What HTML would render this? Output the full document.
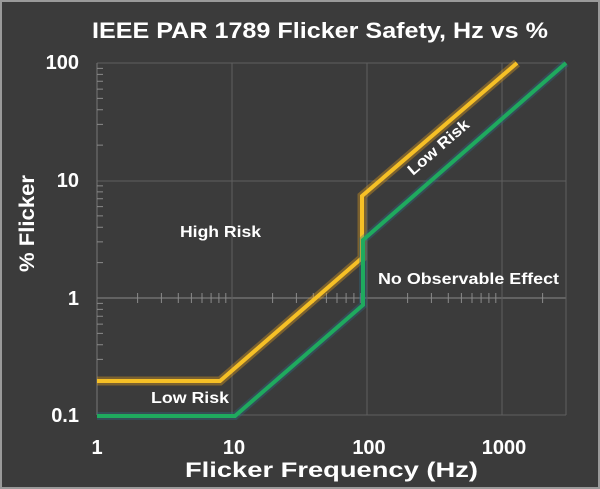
<!DOCTYPE html>
<html><head><style>
html,body{margin:0;padding:0;background:#3b3b3b;}
svg{display:block;font-family:"Liberation Sans",Arial,sans-serif;font-weight:bold;}
</style></head><body>
<svg width="600" height="489" viewBox="0 0 600 489" xmlns="http://www.w3.org/2000/svg">
<rect x="0" y="0" width="600" height="489" fill="#3b3b3b"/>
<rect x="1" y="1" width="598" height="487" fill="none" stroke="#9a9a9a" stroke-width="2"/>
<text x="92" y="38" fill="#fff" font-size="22" textLength="456" lengthAdjust="spacingAndGlyphs">IEEE PAR 1789 Flicker Safety, Hz vs %</text>
<g stroke="#5f5f5f" stroke-width="1" fill="none">
<line x1="97" y1="63" x2="566" y2="63"/>
<line x1="97" y1="181" x2="566" y2="181"/>
<line x1="97" y1="298" x2="566" y2="298" stroke="#888"/>
<line x1="97" y1="415" x2="566" y2="415"/>
<line x1="97" y1="63" x2="97" y2="415" stroke="#777"/>
<line x1="232" y1="63" x2="232" y2="415"/>
<line x1="367" y1="63" x2="367" y2="415"/>
<line x1="502" y1="63" x2="502" y2="415"/>
<line x1="566" y1="63" x2="566" y2="415"/>
</g>
<path stroke="#8a8a8a" stroke-width="1" fill="none" d="
M137.6,293v10M161.4,293v10M178.3,293v10M191.4,293v10M202,293v10M211.1,293v10M218.9,293v10M225.8,293v10
M272.6,293v10M296.4,293v10M313.3,293v10M326.4,293v10M337,293v10M346.1,293v10M353.9,293v10M360.8,293v10
M407.6,293v10M431.4,293v10M448.3,293v10M461.4,293v10M472,293v10M481.1,293v10M488.9,293v10M495.8,293v10M542.6,293v10
M97,145.1h6M97,124.4h6M97,109.8h6M97,98.4h6M97,89.1h6M97,81.2h6M97,74.4h6M97,68.4h6
M97,262.6h6M97,241.9h6M97,227.3h6M97,215.9h6M97,206.6h6M97,198.7h6M97,191.9h6M97,185.9h6
M97,380.1h6M97,359.4h6M97,344.8h6M97,333.4h6M97,324.1h6M97,316.2h6M97,309.4h6M97,303.4h6"/>
<g fill="none" stroke-linejoin="miter">
<polyline points="97,381 220,381 362,258 362,196 517,63" stroke="#f3a81a" stroke-opacity="0.35" stroke-width="9"/>
<polyline points="97,381 220,381 362,258 362,196 517,63" stroke="#f6c026" stroke-width="4"/>
<polyline points="97,416 235,416 363,305 363,240 566,63" stroke="#2a6f8a" stroke-opacity="0.35" stroke-width="8"/>
<polyline points="97,416 235,416 363,305 363,240 566,63" stroke="#1faa5e" stroke-width="4"/>
</g>
<g fill="#fff" font-size="15.5" lengthAdjust="spacingAndGlyphs">
<text x="180" y="237" textLength="81" lengthAdjust="spacingAndGlyphs">High Risk</text>
<text x="151" y="403" textLength="78" lengthAdjust="spacingAndGlyphs">Low Risk</text>
<text x="378" y="284" textLength="181" lengthAdjust="spacingAndGlyphs">No Observable Effect</text>
<text x="0" y="0" transform="translate(413,176) rotate(-41)" textLength="76" lengthAdjust="spacingAndGlyphs">Low Risk</text>
</g>
<g fill="#fff" font-size="20" text-anchor="end">
<text x="79" y="69">100</text>
<text x="79" y="187">10</text>
<text x="79" y="305">1</text>
<text x="79" y="422">0.1</text>
</g>
<g fill="#fff" font-size="20" text-anchor="middle">
<text x="97" y="454">1</text>
<text x="234" y="454">10</text>
<text x="369" y="454">100</text>
<text x="504" y="454">1000</text>
</g>
<g fill="#fff" font-size="21">
<text x="185" y="477" textLength="293" lengthAdjust="spacingAndGlyphs">Flicker Frequency (Hz)</text>
<text x="0" y="0" transform="translate(34,272) rotate(-90)" textLength="97" lengthAdjust="spacingAndGlyphs">% Flicker</text>
</g>
</svg>
</body></html>
